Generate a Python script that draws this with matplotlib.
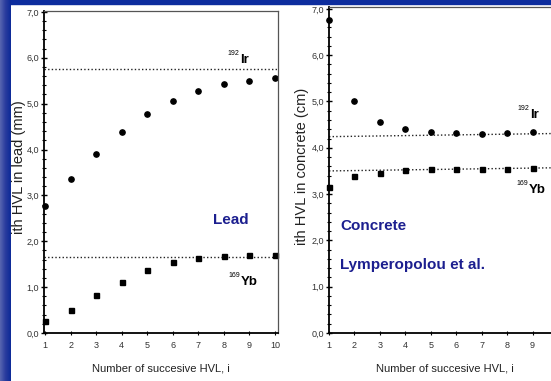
import numpy as np
import matplotlib
matplotlib.use('Agg')
import matplotlib.pyplot as plt
from matplotlib.patches import Rectangle
from matplotlib.ticker import MultipleLocator, FuncFormatter

# datos
hvl_lead = [1, 2, 3, 4, 5, 6, 7, 8, 9, 10]
lead_ir = [2.76, 3.36, 3.90, 4.39, 4.78, 5.05, 5.27, 5.42, 5.49, 5.55]
lead_yb = [0.27, 0.51, 0.82, 1.11, 1.38, 1.54, 1.63, 1.67, 1.69, 1.70]
lead_ir_eq = 5.76
lead_yb_eq = 1.66

hvl_conc = [1, 2, 3, 4, 5, 6, 7, 8, 9]
conc_ir = [6.76, 5.02, 4.55, 4.40, 4.34, 4.32, 4.30, 4.32, 4.33]
conc_yb = [3.16, 3.39, 3.46, 3.52, 3.54, 3.55, 3.55, 3.55, 3.56]
conc_ir_eq = [4.24, 4.31]
conc_yb_eq = [3.50, 3.57]

tick_font = ['Liberation Sans Narrow', 'Liberation Sans', 'DejaVu Sans']
navy = '#1c1f8f'

fig = plt.figure(figsize=(5.51, 3.81), dpi=100)
fig.patch.set_facecolor('white')

coma = FuncFormatter(lambda v, p: '{:.1f}'.format(v).replace('.', ','))

def preparar_ejes(ax, xlim, ylim, xticks):
    ax.set_xlim(*xlim)
    ax.set_ylim(*ylim)
    ax.yaxis.set_major_locator(MultipleLocator(1))
    ax.yaxis.set_minor_locator(MultipleLocator(0.2))
    ax.yaxis.set_major_formatter(coma)
    ax.set_xticks(xticks)
    ax.tick_params(axis='y', which='major', direction='inout', length=5, width=1, pad=1,
                   labelsize=6.5, labelcolor='#333333')
    ax.tick_params(axis='y', which='minor', direction='inout', length=3, width=0.8)
    ax.tick_params(axis='x', which='major', direction='inout', length=3, width=0.8, pad=4,
                   labelsize=6.5, labelcolor='#333333')
    for lab in ax.get_xticklabels() + ax.get_yticklabels():
        lab.set_family(tick_font)
    ax.spines['left'].set_linewidth(1.3)
    ax.spines['bottom'].set_linewidth(1.3)
    ax.spines['top'].set_color('#555555')
    ax.spines['right'].set_color('#555555')
    ax.spines['top'].set_linewidth(0.9)
    ax.spines['right'].set_linewidth(0.9)

estilo_punteado = dict(color='#222222', lw=1.0, linestyle=(0, (1, 1.6)))

def etiqueta_isotopo(ax, x, y, masa, simbolo):
    t = ax.text(x, y, simbolo, fontsize=9.5, fontweight='bold', family=tick_font)
    ax.annotate(masa, xy=(x, y), xycoords='data', xytext=(-0.5, 6), textcoords='offset points',
                fontsize=5, ha='right', family=tick_font)
    return t

# ----- plomo -----
ax1 = fig.add_axes([44/551, 48/381, 234/551, 322/381])
preparar_ejes(ax1, (0.96, 10.12), (0, 7.02), range(1, 11))
ax1.axhline(lead_ir_eq, **estilo_punteado)
ax1.axhline(lead_yb_eq, **estilo_punteado)
ax1.plot(hvl_lead, lead_ir, 'o', color='black', ms=3.8, clip_on=False)
ax1.plot(hvl_lead, lead_yb, 's', color='black', ms=3.6, clip_on=False)
etiqueta_isotopo(ax1, 8.65, 5.88, '192', 'Ir')
etiqueta_isotopo(ax1, 8.65, 1.04, '169', 'Yb')
ax1.text(7.56, 2.47, 'Lead', fontsize=11, fontweight='bold', color=navy,
         family='Liberation Sans', va='center')
ax1.set_xlabel('Number of succesive HVL, i', fontsize=8, family=tick_font, color='#222222',
               labelpad=10)
ax1.set_ylabel('ith HVL in lead (mm)', fontsize=10.5, family='Liberation Sans', color='#222222')
ax1.yaxis.set_label_coords(-0.078, 0.515)

# ----- hormigon -----
ax2 = fig.add_axes([329/551, 48/381, 232/551, 326/381])
preparar_ejes(ax2, (1.0, 10.12), (0, 7.04), range(1, 10))
ax2.plot([1.0, 10.12], conc_ir_eq, **estilo_punteado)
ax2.plot([1.0, 10.12], conc_yb_eq, **estilo_punteado)
ax2.plot(hvl_conc, conc_ir, 'o', color='black', ms=3.8, clip_on=False)
ax2.plot(hvl_conc, conc_yb, 's', color='black', ms=3.6, clip_on=False)
etiqueta_isotopo(ax2, 8.9, 4.64, '192', 'Ir')
etiqueta_isotopo(ax2, 8.85, 3.02, '169', 'Yb')
ax2.text(1.43, 2.32, 'Concrete', fontsize=11, fontweight='bold', color=navy,
         family='Liberation Sans', va='center')
ax2.text(1.43, 1.47, 'Lymperopolou et al.', fontsize=11, fontweight='bold', color=navy,
         family='Liberation Sans', va='center')
ax2.set_xlabel('Number of succesive HVL, i', fontsize=8, family=tick_font, color='#222222',
               labelpad=10)
ax2.set_ylabel('ith HVL in concrete (cm)', fontsize=10.5, family='Liberation Sans', color='#222222')
ax2.yaxis.set_label_coords(-0.085, 0.51)

# ----- marco azul de la diapositiva -----
ax_bg = fig.add_axes([0, 0, 11/551, 1], zorder=20)
grad = np.linspace(0, 1, 64).reshape(1, -1)
ax_bg.imshow(grad, aspect='auto', cmap=matplotlib.colors.LinearSegmentedColormap.from_list(
    'borde', ['#5866b0', '#2a3c9e', '#0c2a98']), extent=(0, 1, 0, 1))
ax_bg.set_axis_off()
fig.add_artist(Rectangle((0, 1 - 4/381), 1, 4/381, transform=fig.transFigure,
                         color='#0d2d9e', zorder=20))

fig.savefig('out.png', dpi=100)
